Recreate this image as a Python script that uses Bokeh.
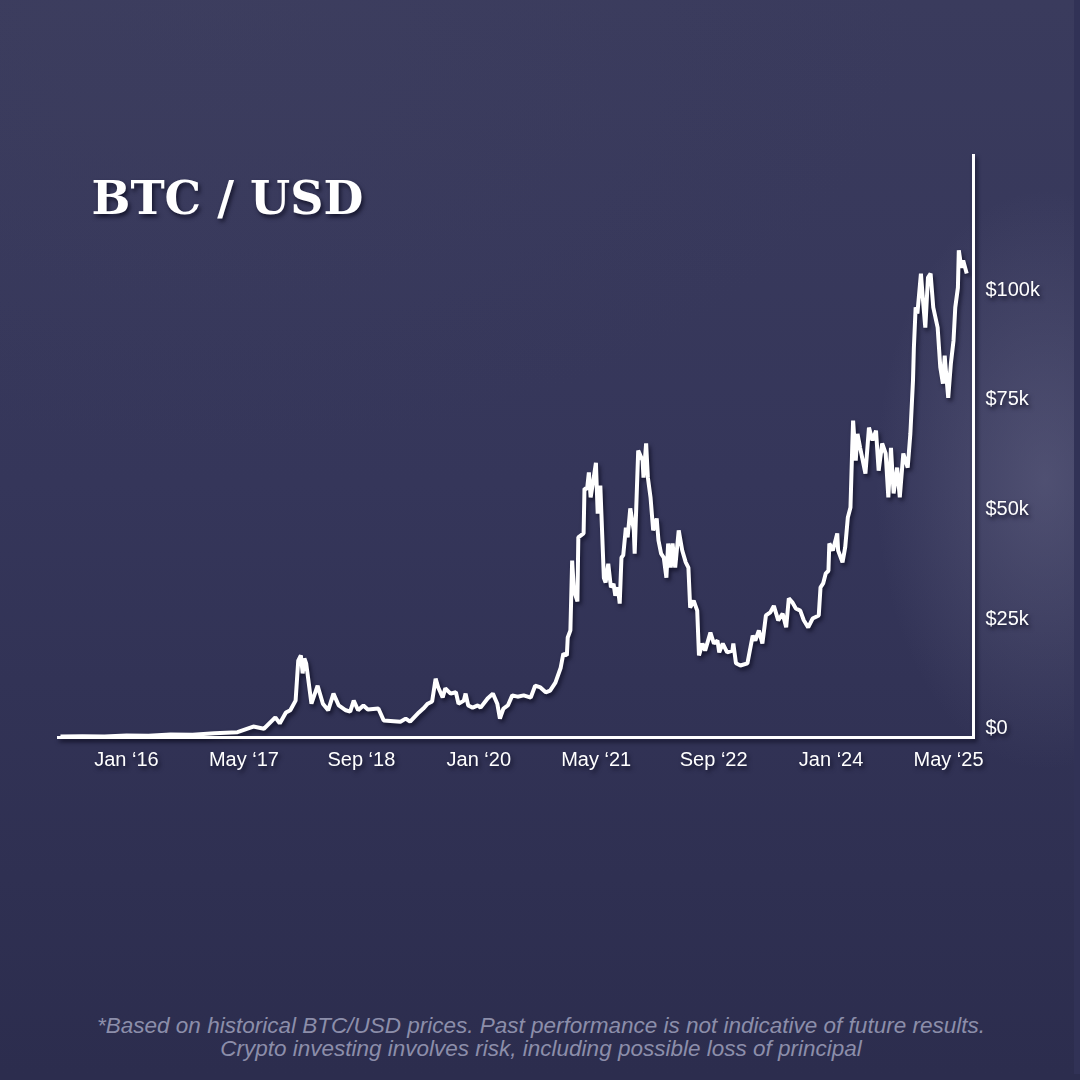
from bokeh.plotting import figure
from bokeh.models import Range1d, LinearAxis, FixedTicker, Label, Div
from bokeh.layouts import column
from bokeh.embed import file_html
from bokeh.resources import INLINE

# ---- data ----
dates = [
    2015.25, 2015.5, 2015.75, 2016.0, 2016.25, 2016.5, 2016.75, 2017.0, 2017.26,
    2017.44, 2017.56, 2017.69, 2017.74, 2017.81, 2017.86, 2017.92, 2017.95, 2017.98, 2018.00,
    2018.02, 2018.04, 2018.07, 2018.10, 2018.17, 2018.23, 2018.29, 2018.35, 2018.41, 2018.49,
    2018.54, 2018.58, 2018.63, 2018.69, 2018.74, 2018.86, 2018.92,
    2019.11, 2019.17, 2019.22, 2019.32, 2019.37, 2019.42, 2019.47, 2019.51, 2019.54, 2019.59,
    2019.62, 2019.68, 2019.74, 2019.77, 2019.83, 2019.85, 2019.88, 2019.93, 2019.99,
    2020.02, 2020.10, 2020.16, 2020.21, 2020.24, 2020.28, 2020.33, 2020.38, 2020.44, 2020.51,
    2020.59, 2020.64, 2020.70, 2020.76, 2020.81, 2020.87, 2020.93, 2020.96,
    2021.00, 2021.01, 2021.04, 2021.06, 2021.08, 2021.12, 2021.13, 2021.19, 2021.20, 2021.23,
    2021.25, 2021.27, 2021.30, 2021.33, 2021.35, 2021.38, 2021.42, 2021.44, 2021.47, 2021.50,
    2021.53, 2021.55, 2021.58, 2021.60, 2021.62, 2021.64, 2021.67, 2021.69, 2021.72, 2021.76,
    2021.77, 2021.81, 2021.86, 2021.87, 2021.90, 2021.92, 2021.95, 2021.98,
    2022.02, 2022.04, 2022.07, 2022.10, 2022.13, 2022.15, 2022.18, 2022.20, 2022.23, 2022.27,
    2022.31, 2022.35, 2022.38, 2022.40, 2022.44, 2022.48, 2022.50, 2022.54, 2022.57, 2022.63,
    2022.67, 2022.71, 2022.73, 2022.77, 2022.82, 2022.88, 2022.89, 2022.92, 2022.97,
    2023.05, 2023.11, 2023.14, 2023.18, 2023.22, 2023.26, 2023.31, 2023.35, 2023.40, 2023.45,
    2023.49, 2023.52, 2023.56, 2023.60, 2023.65, 2023.69, 2023.74, 2023.79, 2023.86, 2023.88,
    2023.91, 2023.94, 2023.97, 2023.98,
    2024.02, 2024.07, 2024.08, 2024.13, 2024.16, 2024.19, 2024.22, 2024.24, 2024.25, 2024.28,
    2024.30, 2024.33, 2024.39, 2024.43, 2024.47, 2024.51, 2024.54, 2024.58, 2024.62, 2024.65,
    2024.68, 2024.71, 2024.75, 2024.78, 2024.82, 2024.87, 2024.90, 2024.93, 2024.94, 2024.96,
    2024.98,
    2025.02, 2025.05, 2025.07, 2025.10, 2025.13, 2025.16, 2025.21, 2025.24, 2025.27, 2025.29,
    2025.31, 2025.33, 2025.36, 2025.39, 2025.41, 2025.44, 2025.45, 2025.48, 2025.50, 2025.54,
]
price_k = [
    0.24, 0.26, 0.24, 0.43, 0.42, 0.67, 0.61, 0.99, 1.2,
    2.5, 2.0, 4.6, 3.2, 5.7, 6.2, 8.4, 17.5, 18.7, 14.6,
    18.0, 16.9, 12.3, 7.7, 11.8, 7.7, 6.2, 10.0, 7.3, 6.2,
    5.9, 8.4, 6.2, 7.3, 6.4, 6.6, 3.9,
    3.6, 4.3, 3.6, 5.7, 6.6, 7.7, 8.2, 13.4, 11.4, 9.1,
    11.2, 10.0, 10.3, 7.7, 8.4, 10.0, 7.3, 6.8, 7.3,
    6.8, 8.9, 10.0, 7.7, 4.3, 6.6, 7.3, 9.6, 9.3, 9.6,
    9.1, 11.8, 11.4, 10.3, 10.7, 12.5, 15.9, 19.1,
    18.7, 22.8, 24.4, 40.3, 33.5, 31.0, 45.6, 46.5, 56.7, 56.7,
    60.4, 54.7, 58.5, 62.6, 51.0, 57.4, 36.4, 35.3, 39.6, 34.2,
    35.0, 32.3, 34.2, 30.5, 41.0, 41.5, 47.8, 45.6, 52.2, 47.2,
    41.9, 65.4, 63.1, 59.2, 67.0, 59.2, 54.7, 47.2,
    49.9, 44.9, 41.9, 41.0, 36.4, 44.2, 38.7, 44.2, 38.7, 47.2,
    42.6, 39.9, 38.7, 29.6, 31.2, 28.9, 18.7, 21.4, 19.8, 23.9,
    21.4, 22.1, 19.4, 21.4, 19.4, 19.8, 21.4, 16.9, 16.4,
    16.9, 23.2, 22.1, 24.4, 21.4, 27.8, 28.5, 30.0, 26.7, 28.2,
    25.1, 31.7, 30.8, 29.4, 28.9, 26.7, 25.1, 27.1, 27.8, 34.2,
    35.1, 37.4, 38.0, 44.2,
    42.6, 46.5, 42.6, 39.9, 43.3, 50.1, 52.4, 66.0, 72.2, 63.1,
    69.2, 66.0, 60.1, 70.6, 67.7, 69.9, 60.8, 67.0, 64.7, 54.7,
    66.0, 55.6, 61.5, 54.7, 64.7, 61.5, 69.2, 81.3, 88.8, 98.0,
    96.6,
    105.7, 98.0, 93.4, 104.8, 105.7, 98.0, 93.4, 84.3, 80.6, 87.0,
    82.0, 77.4, 85.2, 90.4, 98.0, 102.5, 111.0, 107.0, 108.7, 105.7,
]

x_tick_pos = [2016.0, 2017 + 4 / 12, 2018 + 8 / 12, 2020.0,
              2021 + 4 / 12, 2022 + 8 / 12, 2024.0, 2025 + 4 / 12]
x_tick_labels = ["Jan \u201816", "May \u201817", "Sep \u201818", "Jan \u201820",
                 "May \u201821", "Sep \u201822", "Jan \u201824", "May \u201825"]
y_tick_vals = [0, 25, 50, 75, 100]
y_tick_labels = ["$0", "$25k", "$50k", "$75k", "$100k"]

title_text = "BTC / USD"
note_1 = "*Based on historical BTC/USD prices. Past performance is not indicative of future results."
note_2 = "Crypto investing involves risk, including possible loss of principal"

# ---- figure ----
W = 1064
H_PLOT = 1000
H_NOTE = 64
p = figure(width=W, height=H_PLOT, output_backend="svg", toolbar_location=None,
           x_range=Range1d(2015.228, 2025.617), y_range=Range1d(0, 132.6),
           y_axis_location=None,
           min_border_left=58, min_border_right=W - 973, min_border_top=155,
           min_border_bottom=H_PLOT - 737)
p.background_fill_color = None
p.border_fill_color = None
p.outline_line_color = None
p.xgrid.visible = False
p.ygrid.visible = False

LABEL_FONT = "Liberation Sans"

xa = p.xaxis[0]
xa.ticker = FixedTicker(ticks=x_tick_pos)
xa.major_label_overrides = dict(zip(x_tick_pos, x_tick_labels))
xa.axis_line_color = "white"
xa.axis_line_width = 3
xa.axis_line_cap = "square"
xa.major_tick_line_color = None
xa.minor_tick_line_color = None
xa.major_tick_out = 0
xa.major_tick_in = 0
xa.major_label_standoff = 10
xa.major_label_text_color = "white"
xa.major_label_text_font = LABEL_FONT
xa.major_label_text_font_size = "20px"

# label axis sits on a range shifted 10px so labels float just above their ticks
p.extra_y_ranges = {"ylab": Range1d(-2.28, 130.32)}
ya = LinearAxis(y_range_name="ylab", ticker=FixedTicker(ticks=y_tick_vals),
                major_label_overrides=dict(zip(y_tick_vals, y_tick_labels)))
ya.axis_line_color = "white"
ya.axis_line_width = 3
ya.axis_line_cap = "square"
ya.major_tick_line_color = None
ya.minor_tick_line_color = None
ya.major_tick_out = 0
ya.major_tick_in = 0
ya.major_label_standoff = 12
ya.major_label_text_color = "white"
ya.major_label_text_font = LABEL_FONT
ya.major_label_text_font_size = "20px"
p.add_layout(ya, "right")

p.line(dates, price_k, line_color="white", line_width=4, line_join="bevel")

p.add_layout(Label(x=33, y=539.5, x_units="screen", y_units="screen", text=title_text,
                   text_font="DejaVu Serif", text_font_style="bold", text_font_size="46px",
                   text_color="white", text_baseline="middle"))

p.styles = {"filter": "drop-shadow(2px 3px 2px rgba(10,10,30,0.75))"}

note = Div(text=note_1 + "<br>" + note_2, width=W, height=H_NOTE, styles={
    "font-family": "'Liberation Sans', Arial, sans-serif",
    "font-style": "italic",
    "font-size": "22.5px",
    "line-height": "23px",
    "color": "#8c8eaa",
    "text-align": "center",
    "padding-top": "9px",
    "padding-left": "8px",
    "box-sizing": "border-box",
    "white-space": "nowrap",
})

root = column(p, note, spacing=0, styles={
    "background": ("radial-gradient(ellipse 170px 290px at 1045px 480px, rgba(130,130,160,0.34), rgba(130,130,160,0) 100%), "
                   "radial-gradient(ellipse 700px 450px at 20% 0%, rgba(66,67,98,0.30), rgba(66,67,98,0) 100%), "
                   "linear-gradient(180deg, #3a3b5d 0%, #35365a 45%, #2c2d4e 100%)"),
    "box-shadow": ("8px 0 0 0 #313256, -8px 0 0 0 #343559, 0 8px 0 0 #2c2d4e, "
                   "0 -8px 0 0 #3b3c5e, 8px 8px 0 0 #2c2d4e, -8px -8px 0 0 #3b3c5e, "
                   "8px -8px 0 0 #3b3c5e, -8px 8px 0 0 #2c2d4e"),
})

open("out.html", "w").write(file_html(root, INLINE))
